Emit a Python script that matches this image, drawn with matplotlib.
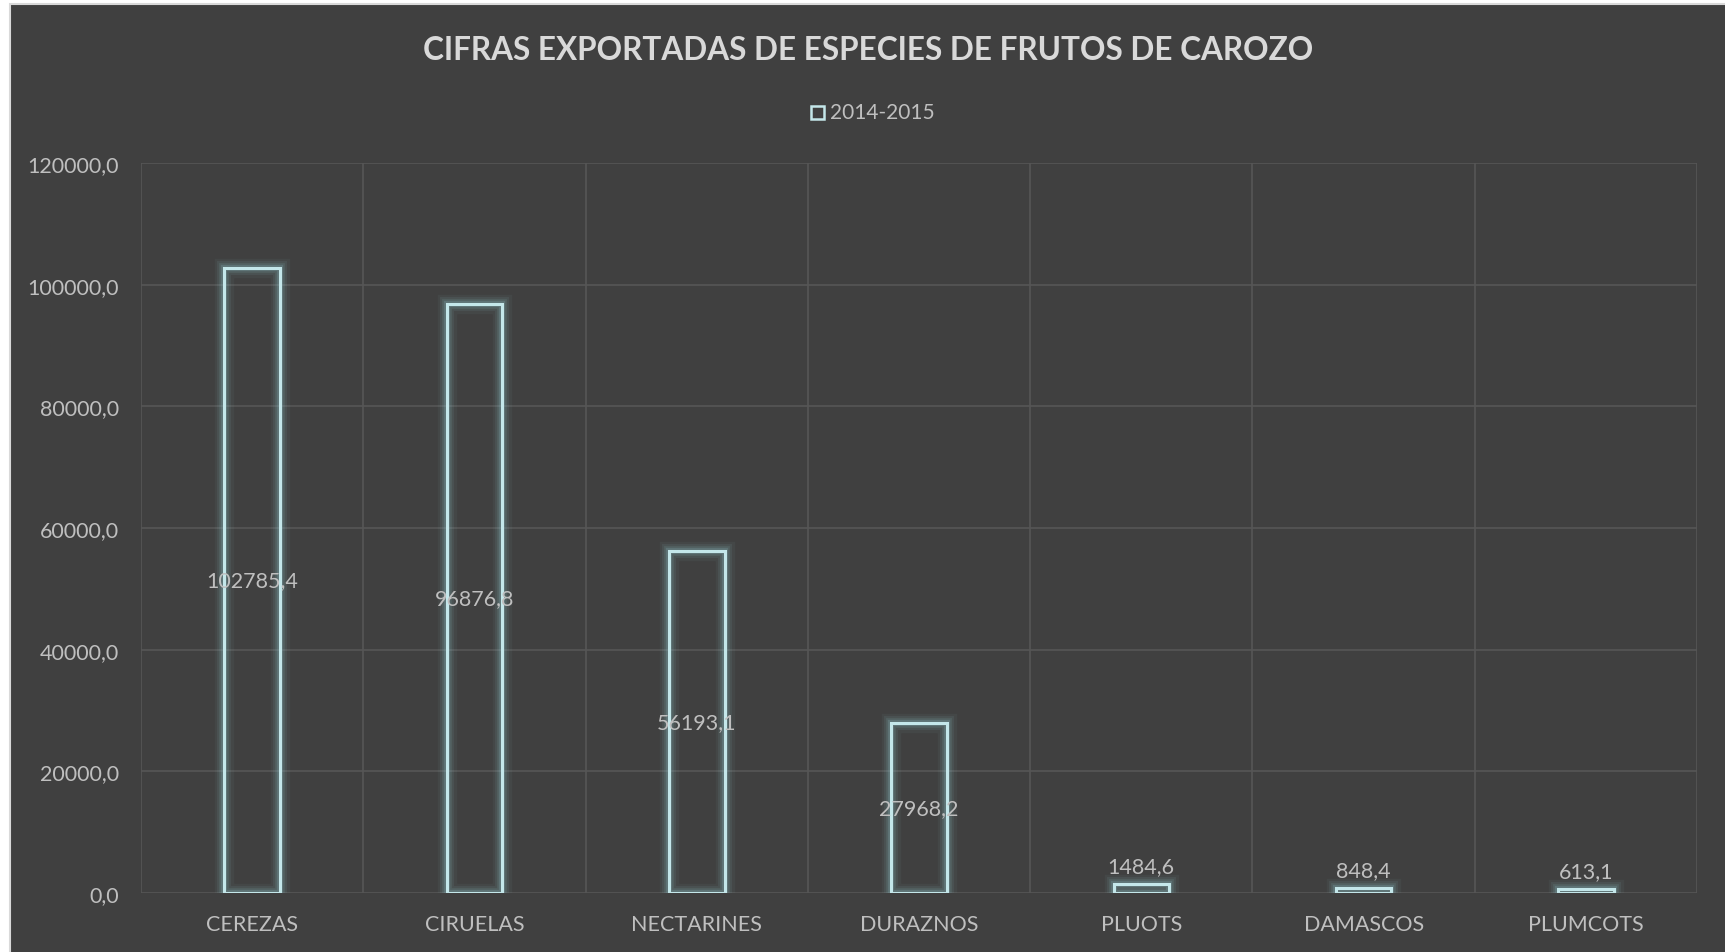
import numpy as np
import matplotlib.pyplot as plt
from matplotlib.patches import Rectangle

categories = ['CEREZAS', 'CIRUELAS', 'NECTARINES', 'DURAZNOS', 'PLUOTS', 'DAMASCOS', 'PLUMCOTS']
values = [102785.4, 96876.8, 56193.1, 27968.2, 1484.6, 848.4, 613.1]
series_name = '2014-2015'
title = 'CIFRAS EXPORTADAS DE ESPECIES DE FRUTOS DE CAROZO'
y_ticks = [0, 20000, 40000, 60000, 80000, 100000, 120000]

bg = '#404040'
edge = '#c4e7ea'
glow = '#8fc4c8'
txt = '#bfbfbf'
grid = '#565656'

plt.rcParams['font.family'] = ['Lato', 'DejaVu Sans']

fig = plt.figure(figsize=(17.25, 9.53), dpi=100)
fig.patch.set_facecolor('white')
fig.patches.append(Rectangle((10 / 1725, -0.02), 1.05, 1.02 - 5 / 953,
                             transform=fig.transFigure, facecolor=bg,
                             edgecolor='#d9d9d9', linewidth=1.5, zorder=-5))

ax = fig.add_axes([141 / 1725, 59 / 953, 1556 / 1725, 730 / 953])
ax.set_facecolor(bg)
x = np.arange(len(categories))
w = 0.25

# glow around the bars
for lw, a in [(14, 0.06), (10, 0.09), (7, 0.13), (4.5, 0.2)]:
    ax.bar(x, values, width=w, fill=False, edgecolor=glow, linewidth=lw, alpha=a, zorder=2)
ax.bar(x, values, width=w, fill=False, edgecolor=edge, linewidth=2.2, zorder=3)

ax.set_xlim(-0.5, len(categories) - 0.5)
ax.set_ylim(0, 120000)
ax.set_yticks(y_ticks)
ax.set_yticklabels([f'{v:.1f}'.replace('.', ',') for v in y_ticks])
ax.set_xticks(x)
ax.set_xticklabels(categories)
ax.set_xticks(np.arange(-0.5, len(categories)), minor=True)
ax.tick_params(axis='both', which='both', length=0, colors=txt, labelsize=15.5)
ax.tick_params(axis='x', pad=15)
ax.tick_params(axis='y', pad=16)
ax.grid(True, axis='y', color=grid, linewidth=1.2, zorder=1)
ax.grid(True, axis='x', which='minor', color=grid, linewidth=1.2, zorder=1)
ax.set_axisbelow(True)
for s in ax.spines.values():
    s.set_visible(False)

for xi, v in zip(x, values):
    lbl = f'{v:.1f}'.replace('.', ',')
    if v > 10000:
        ax.text(xi, v / 2, lbl, ha='center', va='center', color=txt, fontsize=15.5, zorder=4)
    else:
        ax.text(xi, v + 1300, lbl, ha='center', va='bottom', color=txt, fontsize=15.5, zorder=4)

fig.text(868 / 1725, 1 - 50 / 953, title, ha='center', va='center', color='#d9d9d9',
         fontsize=22.7, fontweight='bold')

# legend
fig.patches.append(Rectangle((811 / 1725, 1 - 120 / 953), 13 / 1725, 13 / 953,
                             transform=fig.transFigure, facecolor=bg, edgecolor=edge,
                             linewidth=1.8))
fig.text(830 / 1725, 1 - 113 / 953, series_name, ha='left', va='center', color=txt, fontsize=15)

fig.savefig('out.png', dpi=100, facecolor=fig.get_facecolor())
